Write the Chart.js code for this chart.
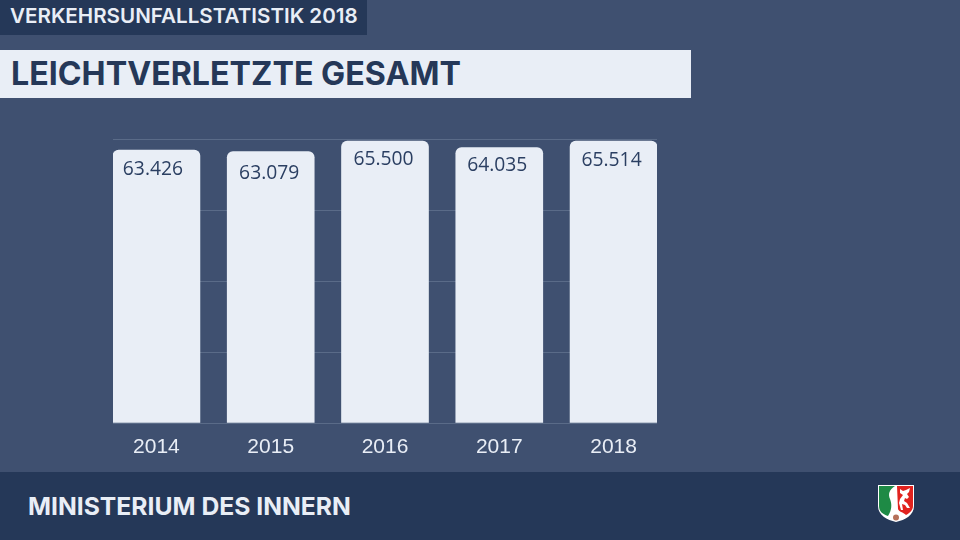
<!DOCTYPE html>
<html lang="de">
<head>
<meta charset="utf-8">
<title>Leichtverletzte gesamt</title>
<script src="https://cdn.jsdelivr.net/npm/chart.js@4"></script>
<style>
  html, body { margin: 0; padding: 0; }
  body { width: 960px; height: 540px; overflow: hidden; position: relative; background: #3f5070; font-family: "Inter", sans-serif; }
  #chart { position: absolute; left: 0; top: 0; }
  .kicker { position: absolute; left: 0; top: 0; width: 367px; height: 35px; background: #253858; color: #e9eef6;
            font: 600 20.6px/32px Inter, sans-serif; padding-left: 10px; box-sizing: border-box; white-space: nowrap; }
  .title { position: absolute; left: 0; top: 50px; width: 691px; height: 48px; background: #e9eef6; color: #253858;
           font: 700 32.2px/48px Inter, sans-serif; padding-left: 11px; box-sizing: border-box; white-space: nowrap; }
  .footer { position: absolute; left: 0; top: 472px; width: 960px; height: 68px; background: #253858; color: #e9eef6;
            font: 700 24.7px/68px Inter, sans-serif; padding-left: 28px; box-sizing: border-box; }
  .crest { position: absolute; left: 877px; top: 484px; }
</style>
</head>
<body>
<div class="kicker">VERKEHRSUNFALLSTATISTIK 2018</div>
<div class="title">LEICHTVERLETZTE GESAMT</div>
<canvas id="chart" width="960" height="540"></canvas>
<div class="footer">MINISTERIUM DES INNERN</div>
<svg class="crest" width="38" height="39" viewBox="0 0 38 39">
  <path d="M1 1H37V22C37 31 28 36 19 38C10 36 1 31 1 22Z" fill="#fff"/>
  <path d="M2 2H18C12 6 11 10 13 15C15 20 15 26 11 32C5 30 2 27 2 22Z" fill="#1e8a45"/>
  <path d="M20 2H36V22C36 26 33 29 29 31C26 28 22 28 21 25Z" fill="#e1231f"/>
  <path d="M23 5L26 7L29 6L33 4L32 8L30 10L32 13L30 15L28 14L27 17L30 19L33 24L30 24L28 21L25 20L26 26L24 26L22 19L23 15L26 11L23 9Z" fill="#fff"/>
  <circle cx="19" cy="33.5" r="3" fill="#b5705a"/>
</svg>
<script>
// Werte aus der Grafik
const years = [2014, 2015, 2016, 2017, 2018];
const injured = [63426, 63079, 65500, 64035, 65514];
const yMax = 66000;
const yStep = 16500;

const navy = "#2b3f62";
const pale = "#e9eef6";

// Im Original sind die Zahlen von Hand gesetzt, daher kleine Versaetze
const labelShiftX = [-3.5, -1.5, -1.5, -2, -2];
const labelShiftY = [1, 4, 0, 0, 1];

function formatDe(v) {
    return String(v).replace(/(\d+)(\d{3})$/, "$1.$2");
}

// Zahlen oben in den Balken
const valueLabels = {
    id: "valueLabels",
    afterDatasetsDraw(chart) {
        const ctx = chart.ctx;
        const bars = chart.getDatasetMeta(0).data;
        ctx.save();
        ctx.font = "19.3px 'Open Sans', sans-serif";
        ctx.fillStyle = navy;
        ctx.textAlign = "center";
        ctx.textBaseline = "middle";
        bars.forEach((bar, i) => {
            ctx.fillText(formatDe(injured[i]), bar.x + labelShiftX[i], bar.y + 18 + labelShiftY[i]);
        });
        ctx.restore();
    }
};

new Chart(document.getElementById("chart"), {
    type: "bar",
    data: {
        datasets: [{
            data: years.map((y, i) => ({ x: y, y: injured[i] })),
            backgroundColor: pale,
            borderRadius: { topLeft: 6, topRight: 6, bottomLeft: 0, bottomRight: 0 },
            borderSkipped: false,
            barThickness: 87
        }]
    },
    plugins: [valueLabels],
    options: {
        responsive: false,
        animation: false,
        layout: { padding: { left: 113, right: 303, top: 139, bottom: 77 } },
        plugins: { legend: { display: false }, tooltip: { enabled: false } },
        scales: {
            x: {
                type: "linear",
                offset: false,
                min: 2013.62,
                max: 2018.38,
                grid: { display: false },
                border: { display: false },
                afterBuildTicks(scale) {
                    scale.ticks = years.map(y => ({ value: y }));
                },
                afterFit(scale) { scale.height = 40; },
                ticks: {
                    color: pale,
                    padding: 4,
                    maxRotation: 0,
                    font: { family: "'Liberation Sans', sans-serif", size: 21 },
                    callback: v => String(v)
                }
            },
            y: {
                min: 0,
                max: yMax,
                grid: { color: "#5a6b88", lineWidth: 1, drawTicks: false },
                border: { display: false },
                ticks: { display: false, stepSize: yStep }
            }
        }
    }
});
</script>
</body>
</html>
